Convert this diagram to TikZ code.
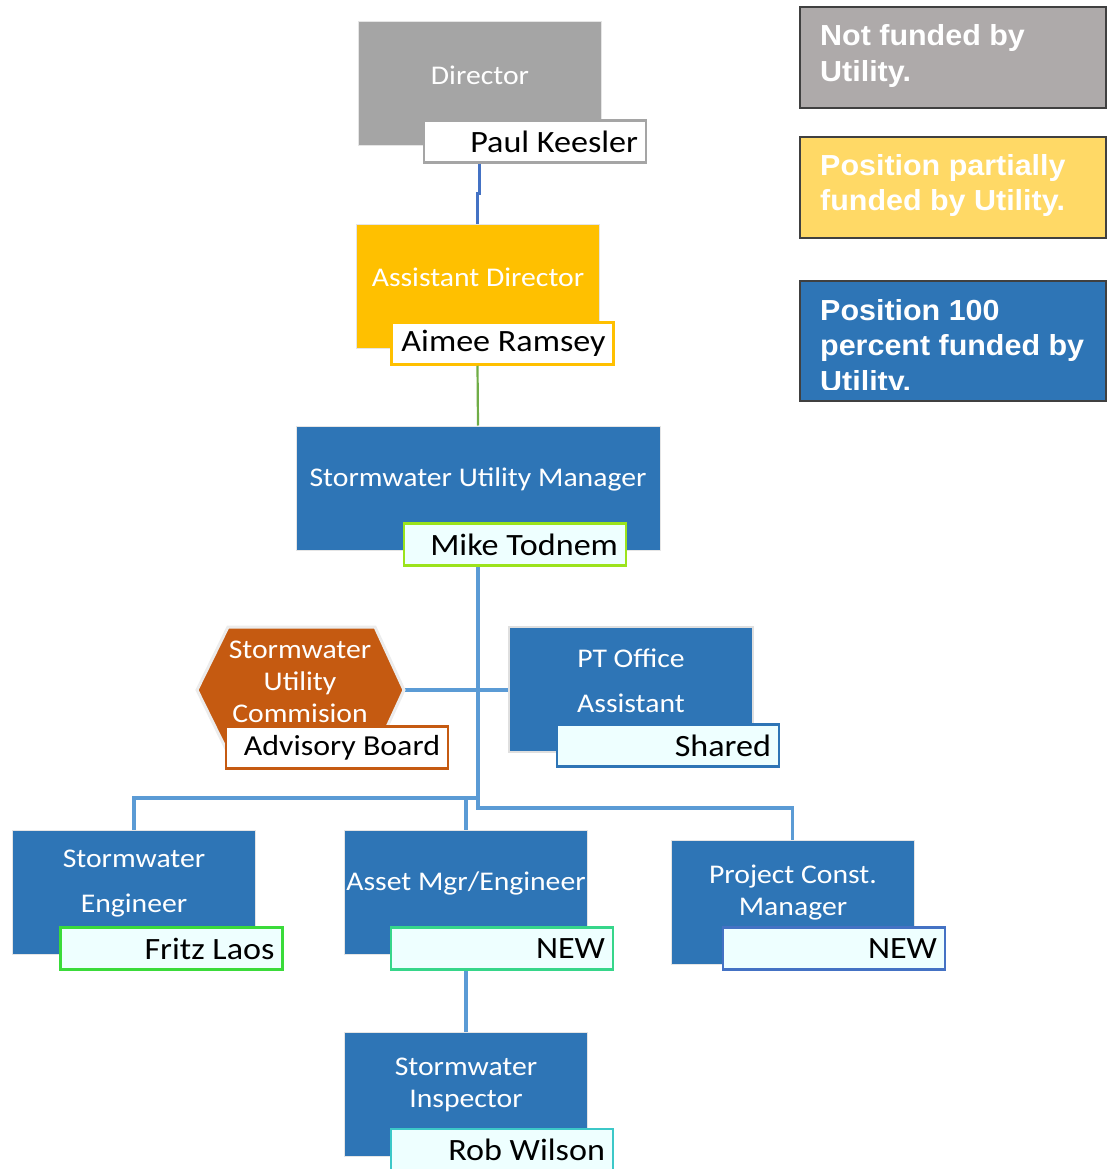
\documentclass[tikz,border=0pt]{standalone}
\usepackage{fontspec}
\setmainfont{Carlito}[FakeStretch=1.1]
\newfontfamily\legfont{Liberation Sans}[FakeStretch=1.05]
\definecolor{dirgray}{HTML}{A5A5A5}
\definecolor{adgold}{HTML}{FFC000}
\definecolor{posblue}{HTML}{2E75B6}
\definecolor{hexorange}{HTML}{C55A11}
\definecolor{connblue}{HTML}{5B9BD5}
\definecolor{dirconn}{HTML}{4472C4}
\definecolor{greenconn}{HTML}{70AD47}
\definecolor{mikeB}{HTML}{9BE31C}
\definecolor{fritzB}{HTML}{3ADB3A}
\definecolor{amB}{HTML}{36D68A}
\definecolor{pcmB}{HTML}{4472C4}
\definecolor{robB}{HTML}{3CC8C8}
\definecolor{namefill}{HTML}{EEFFFF}
\definecolor{leggray}{HTML}{AEAAAA}
\definecolor{legyellow}{HTML}{FFD966}
\definecolor{legborder}{HTML}{404040}
\newcommand{\nm}[1]{\makebox[206pt][r]{#1}}
\begin{document}
\begin{tikzpicture}[x=1pt,y=-1pt,
  posbox/.style={draw=gray!20, line width=1pt, minimum width=243, minimum height=124, inner sep=0},
  title/.style={text=white, font=\fontsize{27}{32}\selectfont, align=center, inner sep=0},
  namebox/.style={draw=#1, line width=2.5pt, fill=namefill, minimum height=42, minimum width=222,
     inner xsep=8, inner ysep=0, font=\fontsize{31}{36}\selectfont},
  conn/.style={draw=connblue, line width=3.2pt},
  legbox/.style={draw=legborder, line width=1.2pt, minimum width=306, inner sep=0},
  legtext/.style={text=white, font=\legfont\bfseries\fontsize{29}{35.5}\selectfont, align=left, inner sep=0, anchor=west}
]
\useasboundingbox (0,0) rectangle (1109,1169);

\coordinate (j) at (478,798);
\coordinate (hexR) at (404,690);

% ---------- Director ----------
\node[posbox, fill=dirgray] (dir) at (479.5,84) {};
\node[title] (dirt) at (480,75) {Director};
\node[namebox=dirgray, fill=white] (paul) at (535,141.5) {\nm{Paul Keesler}};

% ---------- Assistant Director ----------
\node[posbox, fill=adgold] (ad) at (477.5,286) {};
\node[title] (adt) at (478,277) {Assistant Director};
\node[namebox=adgold, fill=white] (aimee) at (502.5,343.5) {\nm{Aimee Ramsey}};

% ---------- Stormwater Utility Manager ----------
\node[posbox, fill=posblue, minimum width=364] (sum) at (478,488) {};
\node[title] (sumt) at (478,479) {Stormwater Utility Manager};
\node[namebox=mikeB] (mike) at (515,544.5) {\nm{Mike Todnem}};

% connectors
\draw[dirconn, line width=2.6pt] (paul.south -| dir.south) -- ++(0,30) -| (ad.north);
\draw[greenconn, line width=2.2pt] (aimee.south -| ad.south) -- (sum.north);
\draw[conn] (mike.south -| sum.south) -- (478,808) -| (792.5,840);
\draw[conn] (hexR) -- (509,690);
\draw[conn] (j) -| (134,830);
\draw[conn] (466,798) -- (466,830);
\draw[conn] (466,970) -- (466,1032);

% ---------- Commission hexagon ----------
\filldraw[fill=hexorange, draw=gray!15, line width=3pt]
  (197,690) -- (228,627) -- (375,627) -- (hexR) -- (375,753) -- (228,753) -- cycle;
\node[title] (hext) at (300,682) {Stormwater\\Utility\\Commision};
\node[namebox=hexorange, fill=white, font=\fontsize{29}{34}\selectfont] (adv) at (337,747.5) {\nm{Advisory Board}};

% ---------- PT Office Assistant ----------
\node[posbox, fill=posblue, minimum width=244, minimum height=125, draw=gray!25, line width=2pt] (pt) at (631,689.5) {};
\node[title, font=\fontsize{27}{45}\selectfont] (ptt) at (631,680.5) {PT Office\\Assistant};
\node[namebox=posblue] (shared) at (668,745.5) {\nm{Shared}};

% ---------- bottom row ----------
\node[posbox, fill=posblue] (se) at (134,892) {};
\node[title, font=\fontsize{27}{45}\selectfont] (set) at (134,883.5) {Stormwater\\Engineer};
\node[namebox=fritzB] (fritz) at (171.5,948.5) {\nm{Fritz Laos}};

\node[posbox, fill=posblue] (am) at (465.5,892) {};
\node[title] (amt) at (466,883) {Asset Mgr/Engineer};
\node[namebox=amB] (amnew) at (502,948.5) {\nm{NEW}};

\node[posbox, fill=posblue] (pcm) at (792.5,902) {};
\node[title] (pcmt) at (793,893) {Project Const.\\Manager};
\node[namebox=pcmB] (pcmnew) at (834,948.5) {\nm{NEW}};

\node[posbox, fill=posblue] (si) at (465.5,1094) {};
\node[title] (sit) at (466,1085) {Stormwater\\Inspector};
\node[namebox=robB] (rob) at (502,1150) {\nm{Rob Wilson}};

% ---------- legend ----------
\node[legbox, fill=leggray, minimum height=101] (l1) at (953,57.5) {};
\node[legtext] (l1t) at (820,56) {Not funded by\\Utility.};
\node[legbox, fill=legyellow, minimum height=101] (l2) at (953,187.5) {};
\node[legtext] (l2t) at (820,185.5) {Position partially\\funded by Utility.};
\node[legbox, fill=posblue, minimum height=120] (l3) at (953,341) {};
\begin{scope}
  \clip (800,281) rectangle (1106,389);
  \node[legtext] (l3t) at (820,348.5) {Position 100\\percent funded by\\Utility.};
\end{scope}
\end{tikzpicture}
\end{document}
